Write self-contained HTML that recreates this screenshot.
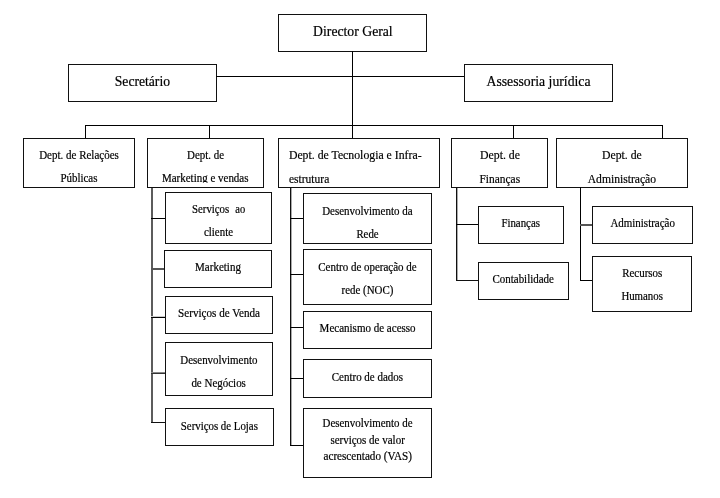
<!DOCTYPE html>
<html><head><meta charset="utf-8"><style>html,body{margin:0;padding:0;background:#fff;width:720px;height:498px;overflow:hidden}svg{display:block;will-change:transform}text{font-family:"Liberation Serif",serif;fill:#000;stroke:#000;stroke-width:0.2px}</style></head><body>
<svg width="720" height="498" viewBox="0 0 720 498">
<defs><clipPath id="cmkt"><rect x="147" y="138" width="117" height="44.8"/></clipPath></defs>
<g fill="none" stroke="#111" stroke-width="1" shape-rendering="crispEdges">
<rect x="278.5" y="14.5" width="148" height="37"/>
<rect x="68.5" y="64.5" width="148" height="37"/>
<rect x="464.5" y="64.5" width="148" height="37"/>
<rect x="23.5" y="138.5" width="111" height="49"/>
<rect x="147.5" y="138.5" width="116" height="49"/>
<rect x="278.5" y="138.5" width="161" height="49"/>
<rect x="451.5" y="138.5" width="96" height="49"/>
<rect x="556.5" y="138.5" width="131" height="49"/>
<rect x="165.5" y="192.5" width="106" height="51"/>
<rect x="164.5" y="250.5" width="107" height="37"/>
<rect x="165.5" y="296.5" width="107" height="37"/>
<rect x="165.5" y="342.5" width="107" height="53"/>
<rect x="165.5" y="408.5" width="108" height="37"/>
<rect x="303.5" y="193.5" width="128" height="50"/>
<rect x="303.5" y="249.5" width="128" height="55"/>
<rect x="303.5" y="311.5" width="128" height="37"/>
<rect x="303.5" y="359.5" width="128" height="38"/>
<rect x="303.5" y="408.5" width="128" height="69"/>
<rect x="478.5" y="206.5" width="85" height="37"/>
<rect x="478.5" y="262.5" width="90" height="37"/>
<rect x="592.5" y="206.5" width="100" height="37"/>
<rect x="592.5" y="256.5" width="99" height="55"/>
</g><g shape-rendering="crispEdges">
<line x1="352.5" y1="51" x2="352.5" y2="138" stroke="#000" stroke-width="1"/>
<line x1="216" y1="76.5" x2="464" y2="76.5" stroke="#000" stroke-width="1"/>
<line x1="85" y1="125.5" x2="662" y2="125.5" stroke="#000" stroke-width="1"/>
<line x1="85.5" y1="125" x2="85.5" y2="138" stroke="#000" stroke-width="1"/>
<line x1="209.5" y1="125" x2="209.5" y2="138" stroke="#000" stroke-width="1"/>
<line x1="513.5" y1="125" x2="513.5" y2="138" stroke="#000" stroke-width="1"/>
<line x1="662.5" y1="125" x2="662.5" y2="138" stroke="#000" stroke-width="1"/>
<line x1="151.5" y1="188" x2="151.5" y2="423" stroke="#5c5c5c" stroke-width="2"/>
<line x1="151" y1="218.5" x2="165" y2="218.5" stroke="#000" stroke-width="1"/>
<line x1="151" y1="268.5" x2="164" y2="268.5" stroke="#555" stroke-width="1"/>
<line x1="151" y1="269.5" x2="164" y2="269.5" stroke="#555" stroke-width="1"/>
<line x1="151" y1="316.5" x2="165" y2="316.5" stroke="#ccc" stroke-width="1"/>
<line x1="151" y1="317.5" x2="165" y2="317.5" stroke="#000" stroke-width="1"/>
<line x1="151" y1="372.5" x2="165" y2="372.5" stroke="#888" stroke-width="1"/>
<line x1="151" y1="373.5" x2="165" y2="373.5" stroke="#333" stroke-width="1"/>
<line x1="151" y1="422.5" x2="165" y2="422.5" stroke="#111" stroke-width="1"/>
<line x1="290.5" y1="187" x2="290.5" y2="446" stroke="#111" stroke-width="1"/>
<line x1="291.5" y1="188" x2="291.5" y2="446" stroke="#aaa" stroke-width="1"/>
<line x1="290" y1="218.5" x2="303" y2="218.5" stroke="#000" stroke-width="1"/>
<line x1="290" y1="274.5" x2="303" y2="274.5" stroke="#000" stroke-width="1"/>
<line x1="290" y1="327.5" x2="303" y2="327.5" stroke="#000" stroke-width="1"/>
<line x1="290" y1="378.5" x2="303" y2="378.5" stroke="#000" stroke-width="1"/>
<line x1="290" y1="445.5" x2="303" y2="445.5" stroke="#000" stroke-width="1"/>
<line x1="456.5" y1="187" x2="456.5" y2="281" stroke="#111" stroke-width="1"/>
<line x1="457.5" y1="188" x2="457.5" y2="281" stroke="#aaa" stroke-width="1"/>
<line x1="456" y1="224.5" x2="478" y2="224.5" stroke="#000" stroke-width="1"/>
<line x1="456" y1="280.5" x2="478" y2="280.5" stroke="#111" stroke-width="1"/>
<line x1="580.5" y1="187" x2="580.5" y2="280" stroke="#000" stroke-width="1"/>
<line x1="580" y1="224.5" x2="592" y2="224.5" stroke="#555" stroke-width="1"/>
<line x1="580" y1="225.5" x2="592" y2="225.5" stroke="#555" stroke-width="1"/>
<line x1="580" y1="280.5" x2="592" y2="280.5" stroke="#000" stroke-width="1"/>
</g>
<text x="313.10" y="35.80" font-size="14.2" textLength="79.60" lengthAdjust="spacingAndGlyphs">Director Geral</text>
<text x="114.75" y="85.60" font-size="14.2" textLength="55.25" lengthAdjust="spacingAndGlyphs">Secretário</text>
<text x="486.50" y="86.00" font-size="14.2" textLength="104.00" lengthAdjust="spacingAndGlyphs">Assessoria jurídica</text>
<text x="39.20" y="158.90" font-size="11.6" textLength="79.60" lengthAdjust="spacingAndGlyphs">Dept. de Relações</text>
<text x="60.40" y="181.60" font-size="11.6" textLength="37.00" lengthAdjust="spacingAndGlyphs">Públicas</text>
<text x="187.00" y="158.80" font-size="11.6" textLength="37.00" lengthAdjust="spacingAndGlyphs">Dept. de</text>
<text x="162.00" y="181.80" font-size="11.6" textLength="86.50" lengthAdjust="spacingAndGlyphs" clip-path="url(#cmkt)">Marketing e vendas</text>
<text x="288.90" y="159.10" font-size="12.9" textLength="132.70" lengthAdjust="spacingAndGlyphs">Dept. de Tecnologia e Infra-</text>
<text x="288.90" y="182.80" font-size="12.9" textLength="40.40" lengthAdjust="spacingAndGlyphs">estrutura</text>
<text x="480.00" y="158.70" font-size="12.9" textLength="40.00" lengthAdjust="spacingAndGlyphs">Dept. de</text>
<text x="479.50" y="182.50" font-size="12.9" textLength="40.60" lengthAdjust="spacingAndGlyphs">Finanças</text>
<text x="602.00" y="158.90" font-size="12.9" textLength="39.70" lengthAdjust="spacingAndGlyphs">Dept. de</text>
<text x="587.70" y="182.60" font-size="12.9" textLength="68.40" lengthAdjust="spacingAndGlyphs">Administração</text>
<text x="192.00" y="212.90" font-size="11.6" textLength="37.20" lengthAdjust="spacingAndGlyphs">Serviços</text>
<text x="235.30" y="212.90" font-size="11.6" textLength="9.90" lengthAdjust="spacingAndGlyphs">ao</text>
<text x="204.00" y="235.80" font-size="11.6" textLength="29.00" lengthAdjust="spacingAndGlyphs">cliente</text>
<text x="195.10" y="271.10" font-size="11.6" textLength="45.80" lengthAdjust="spacingAndGlyphs">Marketing</text>
<text x="178.10" y="316.90" font-size="11.6" textLength="81.90" lengthAdjust="spacingAndGlyphs">Serviços de Venda</text>
<text x="180.30" y="363.80" font-size="11.6" textLength="77.10" lengthAdjust="spacingAndGlyphs">Desenvolvimento</text>
<text x="191.40" y="387.20" font-size="11.6" textLength="54.50" lengthAdjust="spacingAndGlyphs">de Negócios</text>
<text x="180.80" y="429.90" font-size="11.6" textLength="77.10" lengthAdjust="spacingAndGlyphs">Serviços de Lojas</text>
<text x="322.20" y="215.30" font-size="11.6" textLength="90.40" lengthAdjust="spacingAndGlyphs">Desenvolvimento da</text>
<text x="356.40" y="237.50" font-size="11.6" textLength="22.20" lengthAdjust="spacingAndGlyphs">Rede</text>
<text x="318.30" y="271.20" font-size="11.6" textLength="98.40" lengthAdjust="spacingAndGlyphs">Centro de operação de</text>
<text x="341.50" y="293.50" font-size="11.6" textLength="51.80" lengthAdjust="spacingAndGlyphs">rede (NOC)</text>
<text x="319.60" y="331.70" font-size="11.6" textLength="96.00" lengthAdjust="spacingAndGlyphs">Mecanismo de acesso</text>
<text x="331.80" y="380.70" font-size="11.6" textLength="71.20" lengthAdjust="spacingAndGlyphs">Centro de dados</text>
<text x="322.50" y="427.10" font-size="11.6" textLength="90.00" lengthAdjust="spacingAndGlyphs">Desenvolvimento de</text>
<text x="330.40" y="443.75" font-size="11.6" textLength="74.40" lengthAdjust="spacingAndGlyphs">serviços de valor</text>
<text x="323.50" y="459.80" font-size="11.6" textLength="88.50" lengthAdjust="spacingAndGlyphs">acrescentado (VAS)</text>
<text x="501.40" y="227.00" font-size="11.6" textLength="38.60" lengthAdjust="spacingAndGlyphs">Finanças</text>
<text x="492.50" y="282.90" font-size="11.6" textLength="61.40" lengthAdjust="spacingAndGlyphs">Contabilidade</text>
<text x="610.40" y="227.10" font-size="11.6" textLength="64.50" lengthAdjust="spacingAndGlyphs">Administração</text>
<text x="622.20" y="277.10" font-size="11.6" textLength="40.10" lengthAdjust="spacingAndGlyphs">Recursos</text>
<text x="621.40" y="299.90" font-size="11.6" textLength="41.50" lengthAdjust="spacingAndGlyphs">Humanos</text>
</svg></body></html>
